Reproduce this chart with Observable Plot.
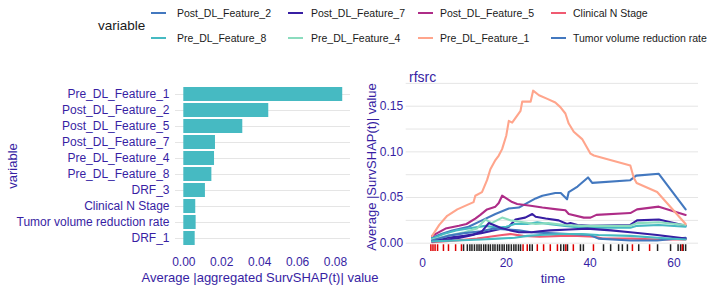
<!DOCTYPE html>
<html><head><meta charset="utf-8">
<script src="https://cdn.jsdelivr.net/npm/d3@7"></script>
<script src="https://cdn.jsdelivr.net/npm/@observablehq/plot@0.6"></script>
<style>
body{margin:0;background:#fff;}
#root{position:relative;width:712px;height:290px;overflow:hidden;font-family:"Liberation Sans",Arial,sans-serif;background:#fff;}
.abs{position:absolute;white-space:nowrap;line-height:1;}
.ttl{color:#371ea3;font-size:13px;}
.leg{color:#1a1a1a;font-size:10.5px;}
svg{position:absolute;}
</style></head><body><div id="root"></div>
<script>
// ---- bar chart data ----
const barVariables = ["Pre_DL_Feature_1","Post_DL_Feature_2","Post_DL_Feature_5","Post_DL_Feature_7","Pre_DL_Feature_4","Pre_DL_Feature_8","DRF_3","Clinical N Stage","Tumor volume reduction rate","DRF_1"];
const barValues = [0.0838,0.0448,0.0311,0.0167,0.0162,0.0148,0.0114,0.0063,0.0065,0.0060];
const barXTicks = [0,0.02,0.04,0.06,0.08];
const barXDomain = [-0.00438,0.0879];

// ---- line chart data ----
const lineVariables = ["Post_DL_Feature_2","Post_DL_Feature_7","Post_DL_Feature_5","Clinical N Stage","Pre_DL_Feature_8","Pre_DL_Feature_4","Pre_DL_Feature_1","Tumor volume reduction rate","DRF_3","DRF_1"];
const lineColors = ["#4378bf","#371ea3","#ae2c87","#f05a71","#46bac2","#8bdcbe","#ffa58c","#4378bf","#371ea3","#46bac2"];
const legendCount = 8;

const seriesPost2 = [[2.3,0.006],[4.5,0.010],[7.1,0.014],[11,0.018],[14.2,0.025],[17.4,0.032],[20.6,0.038],[23,0.039],[24.6,0.043],[27,0.049],[28.6,0.052],[31.7,0.055],[33,0.055],[34.5,0.048],[34.9,0.056],[37,0.062],[39.5,0.072],[40.5,0.066],[49.6,0.069],[51,0.074],[56.4,0.076],[62.8,0.037]];
const seriesPost7 = [[2.3,0.003],[6,0.006],[10,0.008],[14,0.011],[18,0.015],[20.6,0.018],[22.2,0.026],[24.5,0.028],[26.2,0.032],[27,0.029],[29.4,0.027],[32.5,0.025],[34.5,0.021],[35.3,0.022],[37,0.020],[40.1,0.019],[49.6,0.020],[51.2,0.025],[56.4,0.026],[62.8,0.019]];
const seriesPost5 = [[2.3,0.008],[5.5,0.016],[8.7,0.019],[10.5,0.021],[12.6,0.027],[13.8,0.031],[15.4,0.037],[17.4,0.040],[18.2,0.044],[19,0.052],[21.4,0.045],[22.6,0.043],[25.8,0.041],[28.6,0.039],[32.1,0.037],[34.1,0.036],[34.9,0.032],[38.5,0.028],[40.1,0.028],[41.5,0.031],[49.6,0.033],[51.2,0.037],[56.4,0.040],[62.8,0.031]];
const seriesClinicalN = [[2.3,0.001],[8,0.003],[13,0.005],[16,0.007],[19,0.009],[21,0.010],[24,0.008],[28,0.007],[33,0.008],[37,0.008],[41,0.007],[43,0.005],[50,0.005],[56,0.004],[62.8,0.004]];
const seriesPre8 = [[2.3,0.005],[5,0.010],[8,0.014],[12,0.017],[15,0.019],[18,0.017],[20,0.018],[22,0.021],[25,0.021],[27.4,0.023],[30,0.021],[34,0.019],[38,0.017],[42,0.017],[49.6,0.017],[51.2,0.019],[56.4,0.020],[62.8,0.018]];
const seriesPre4 = [[2.3,0.004],[6,0.008],[10,0.012],[13,0.016],[15,0.026],[16.5,0.022],[19,0.028],[21,0.025],[24,0.023],[27,0.021],[30,0.022],[34,0.020],[38,0.019],[42,0.019],[49.6,0.019],[51.2,0.022],[56.4,0.023],[62.8,0.020]];
const seriesPre1 = [[2.3,0.008],[4,0.020],[5.9,0.030],[8.3,0.037],[10.7,0.042],[12.2,0.045],[12.6,0.052],[14.2,0.056],[15.4,0.069],[16.2,0.081],[17.4,0.091],[18.2,0.096],[19,0.103],[20,0.118],[20.6,0.134],[21.4,0.132],[23.4,0.145],[23.8,0.155],[25.8,0.155],[26.4,0.167],[27.8,0.162],[29.8,0.158],[31.7,0.154],[32.9,0.149],[34.1,0.142],[34.9,0.131],[36.1,0.122],[38.1,0.114],[40.1,0.098],[40.9,0.096],[49.6,0.085],[50.4,0.072],[51.1,0.066],[56,0.056],[62.8,0.021]];
const seriesTumor = [[2.3,0.003],[6,0.008],[10,0.011],[14,0.013],[17,0.016],[20,0.015],[23,0.014],[26,0.012],[30,0.011],[35,0.010],[40,0.009],[42,0.005],[49.6,0.003],[56,0.003],[62.8,0.006]];
const seriesDRF3 = [[2.3,0.002],[6,0.004],[9,0.006],[12,0.009],[14.2,0.013],[15.8,0.022],[17,0.020],[18.6,0.017],[21,0.014],[23,0.012],[26,0.012],[28,0.013],[30.5,0.014],[35,0.015],[39.3,0.016],[45,0.014],[49.6,0.012],[56,0.009],[62.8,0.005]];
const seriesDRF1 = [[2.3,0.002],[8,0.003],[14,0.004],[18,0.005],[22,0.006],[25,0.008],[28,0.009],[33,0.010],[38,0.010],[42,0.009],[49.6,0.008],[56,0.006],[62.8,0.004]];

const rugCensored = [2.0,2.5,3.0,3.6,5.0,6.2,7.9,9.3,24.0,25.0,27.4,28.9,30.5,32.2,34.2,36.0,40.8,50.1,54.2,62.0];
const rugEvents = [9.8,10.7,11.3,11.8,12.4,13.0,13.5,14.0,14.6,15.1,15.7,16.2,16.8,17.3,17.9,18.4,19.0,19.5,20.1,20.6,21.2,21.8,22.3,22.9,23.4,25.6,26.2,33.0,33.7,34.6,37.7,38.4,43.2,44.9,46.8,47.7,48.9,51.6,56.1,59.2,61.0,61.6,62.2,62.8];

const timeTicks = [0,20,40,60];
const valueTicks = [0,0.05,0.10,0.15];
const valueGrid = [0,0.025,0.05,0.075,0.10,0.125,0.15,0.175];
const lineXDomain = [-3.89,65.87];
const lineYDomain = [-0.0091,0.1752];

// ---- build tables ----
const barRows = barVariables.map((v,i)=>({variable:v, value:barValues[i]}));
const seriesList = [seriesPost2,seriesPost7,seriesPost5,seriesClinicalN,seriesPre8,seriesPre4,seriesPre1,seriesTumor,seriesDRF3,seriesDRF1];
const lineRows = [];
seriesList.forEach((s,i)=>s.forEach(([t,v])=>lineRows.push({variable:lineVariables[i], time:t, value:v})));
const rugSpan = (lineYDomain[1]-lineYDomain[0])*0.04;
const rugY1 = lineYDomain[0], rugY2 = lineYDomain[0]+rugSpan;

const root = document.getElementById("root");
const font = "Liberation Sans, Arial, sans-serif";

const left = Plot.plot({
  width:360, height:215, marginLeft:175, marginRight:10, marginTop:7.5, marginBottom:40.5,
  style:{background:"transparent", color:"#371ea3", fontSize:"12px", fontFamily:font},
  x:{domain:barXDomain, label:null},
  y:{domain:barVariables, label:null, paddingInner:0.15, paddingOuter:0.175},
  marks:[
    Plot.gridY({stroke:"#e5e5e5", strokeOpacity:1, strokeWidth:1}),
    Plot.barX(barRows, {x:"value", y:"variable", fill:"#46bac2"}),
    Plot.axisX({ticks:barXTicks, tickFormat:d3.format(".2f"), tickSize:0, tickPadding:7, label:null}),
    Plot.axisY({tickSize:0, tickPadding:6, label:null})
  ]
});
left.style.left="0px"; left.style.top="75px";
root.appendChild(left);

const right = Plot.plot({
  width:352, height:220, marginLeft:45.7, marginRight:14, marginTop:12.7, marginBottom:39,
  style:{background:"transparent", color:"#371ea3", fontSize:"12px", fontFamily:font},
  x:{domain:lineXDomain, label:null},
  y:{domain:lineYDomain, label:null},
  color:{domain:lineVariables, range:lineColors},
  marks:[
    Plot.gridY(valueGrid, {stroke:"#e5e5e5", strokeOpacity:1, strokeWidth:1}),
    Plot.line(lineRows, {x:"time", y:"value", z:"variable", stroke:"variable", strokeWidth:2.1}),
    Plot.ruleX(rugEvents, {x:d=>d, y1:rugY1, y2:rugY2, stroke:"#222222", strokeWidth:1.5}),
    Plot.ruleX(rugCensored, {x:d=>d, y1:rugY1, y2:rugY2, stroke:"#dd0000", strokeWidth:1.5}),
    Plot.axisX({ticks:timeTicks, tickSize:0, tickPadding:6.5, label:null}),
    Plot.axisY({ticks:valueTicks, tickFormat:d3.format(".2f"), tickSize:0, tickPadding:3, label:null})
  ]
});
right.style.left="360px"; right.style.top="70px";
root.appendChild(right);

function addText(txt, x, y, cls, opts={}) {
  const d = document.createElement("div");
  d.className = "abs " + cls;
  d.textContent = txt;
  d.style.left = x+"px"; d.style.top = y+"px";
  let tf = opts.center ? "translate(-50%,-50%)" : "translate(0,-50%)";
  if (opts.rotate) tf += " rotate(-90deg)";
  d.style.transform = tf;
  if (opts.size) d.style.fontSize = opts.size+"px";
  root.appendChild(d);
  return d;
}
// axis titles
addText("variable", 12, 166, "ttl", {center:true, rotate:true});
addText("Average |aggregated SurvSHAP(t)| value", 260, 277, "ttl", {center:true});
addText("Average |SurvSHAP(t)| value", 371, 167, "ttl", {center:true, rotate:true});
addText("time", 553, 278, "ttl", {center:true});
addText("rfsrc", 409, 77, "ttl", {size:14});

// legend
addText("variable", 98, 26, "leg", {size:13.5});
const legKeyX = [151,288,418,551];
const legTextX = [177,311,440,573];
const legRowY = [13,38];
for (let i=0;i<legendCount;i++){
  const row = Math.floor(i/4), col = i%4;
  const k = document.createElement("div");
  k.className="abs";
  k.style.left=legKeyX[col]+"px"; k.style.top=(legRowY[row]-1)+"px";
  k.style.width="15px"; k.style.height="2px"; k.style.background=lineColors[i];
  root.appendChild(k);
  addText(lineVariables[i], legTextX[col], legRowY[row], "leg");
}
</script></body></html>
